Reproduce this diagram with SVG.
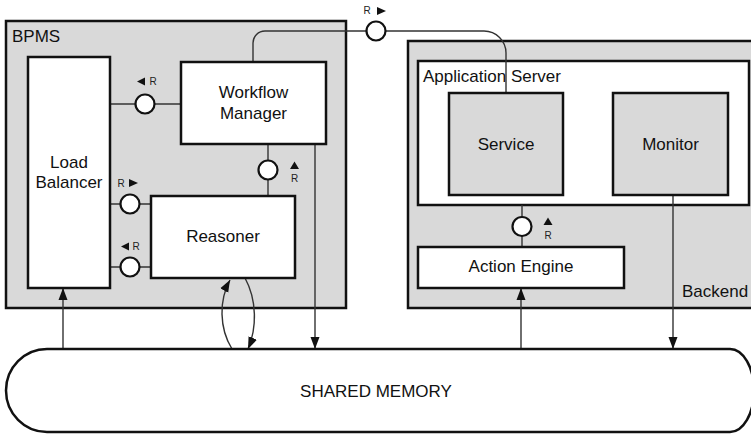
<svg xmlns="http://www.w3.org/2000/svg" width="751" height="434" viewBox="0 0 751 434">
<style>
text{font-family:"Liberation Sans",Arial,sans-serif;fill:#111}
.t{font-size:17px;text-anchor:middle}
.tl{font-size:17px}
.r{font-size:10px;text-anchor:middle;fill:#222}
.grp{fill:#d9d9d9;stroke:#111;stroke-width:2.5}
.box{fill:#fff;stroke:#111;stroke-width:2.5}
.gbox{fill:#d9d9d9;stroke:#111;stroke-width:2.5}
.ln{fill:none;stroke:#333;stroke-width:1.4}
.lol{fill:#fff;stroke:#111;stroke-width:2.2}
.tri{fill:#111}
</style>
<defs>
<marker id="ah" markerUnits="userSpaceOnUse" markerWidth="13" markerHeight="13" viewBox="0 0 13 13" refX="12" refY="6.5" orient="auto">
<path d="M0,2 L12,6.5 L0,11 Z" fill="#111"/>
</marker>
</defs>

<g id="bpms">
<rect class="grp" x="6" y="21" width="340" height="287"/>
<text class="tl" x="12" y="42">BPMS</text>
</g>
<g id="backend">
<rect class="grp" x="408" y="41" width="360" height="267"/>
<text class="tl" x="682" y="297">Backend</text>
</g>
<g id="appserver">
<rect class="box" x="418" y="61" width="331" height="144"/>
<text class="tl" x="423" y="82">Application Server</text>
</g>

<g id="connectors">
<path class="ln" d="M110,104 H181"/>
<path class="ln" d="M268,144 V196"/>
<path class="ln" d="M110,204 H151"/>
<path class="ln" d="M110,267 H151"/>
<path class="ln" d="M522,205 V247"/>
<path class="ln" d="M253,62 V43 A12,12 0 0 1 265,31 H386 H484 A22,22 0 0 1 506,53 V93"/>
<path class="ln" d="M63,349 V288" marker-end="url(#ah)"/>
<path class="ln" d="M315,144 V349" marker-end="url(#ah)"/>
<path class="ln" d="M521,349 V288" marker-end="url(#ah)"/>
<path class="ln" d="M673,195 V349" marker-end="url(#ah)"/>
<path class="ln" d="M232,349 C219,328 219,300 230,280" marker-end="url(#ah)"/>
<path class="ln" d="M245,278 C257,300 257,328 248,349" marker-end="url(#ah)"/>
</g>

<g id="lb">
<rect class="box" x="28" y="57" width="82" height="231"/>
<text class="t" x="69" y="168">Load</text>
<text class="t" x="69" y="188">Balancer</text>
</g>
<g id="wm">
<rect class="box" x="181" y="62" width="145" height="82"/>
<text class="t" x="253.5" y="98">Workflow</text>
<text class="t" x="253.5" y="119">Manager</text>
</g>
<g id="reasoner">
<rect class="box" x="151" y="196" width="144" height="82"/>
<text class="t" x="223" y="242">Reasoner</text>
</g>
<g id="service">
<rect class="gbox" x="449" y="93" width="114" height="102"/>
<text class="t" x="506" y="150">Service</text>
</g>
<g id="monitor">
<rect class="gbox" x="613" y="93" width="115" height="102"/>
<text class="t" x="670.5" y="150">Monitor</text>
</g>
<g id="actionengine">
<rect class="box" x="418" y="247" width="206" height="41"/>
<text class="t" x="521" y="272">Action Engine</text>
</g>
<g id="sharedmemory">
<path d="M47,349 H730 A24,41.5 0 0 1 730,432 H47 A41,41.5 0 0 1 47,349 Z" fill="#fff" stroke="#111" stroke-width="2.5"/>
<text class="t" x="376" y="397">SHARED MEMORY</text>
</g>

<g id="lollipops">
<circle class="lol" cx="145" cy="104" r="9.5"/>
<path class="tri" d="M137,81.5 L145,77.5 L145,85.5 Z"/>
<text class="r" x="153" y="85">R</text>

<circle class="lol" cx="268" cy="170" r="9.5"/>
<path class="tri" d="M294.5,161.5 L299,169 L290,169 Z"/>
<text class="r" x="294.5" y="182">R</text>

<circle class="lol" cx="130" cy="204" r="9.5"/>
<text class="r" x="121" y="187">R</text>
<path class="tri" d="M138,183 L129,179 L129,187 Z"/>

<circle class="lol" cx="130" cy="267" r="9.5"/>
<path class="tri" d="M121,246.5 L129,242.5 L129,250.5 Z"/>
<text class="r" x="136" y="250">R</text>

<circle class="lol" cx="376" cy="31" r="9.5"/>
<text class="r" x="367" y="14">R</text>
<path class="tri" d="M386,11 L377,7 L377,15 Z"/>

<circle class="lol" cx="522" cy="226.5" r="9.5"/>
<path class="tri" d="M548,217.5 L552.5,225 L543.5,225 Z"/>
<text class="r" x="548" y="239">R</text>
</g>
</svg>
